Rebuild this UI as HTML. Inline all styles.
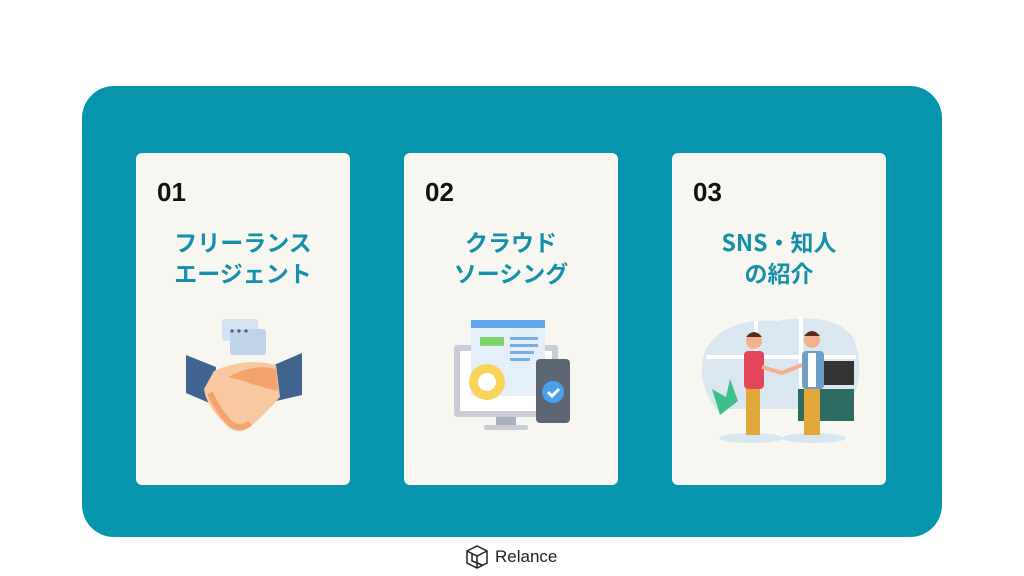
<!DOCTYPE html>
<html><head><meta charset="utf-8"><style>
body{margin:0;width:1024px;height:576px;background:#fff;position:relative;overflow:hidden;font-family:"Liberation Sans","Noto Sans CJK JP",sans-serif}
.panel{position:absolute;left:82px;top:86px;width:860px;height:451px;background:#0795ae;border-radius:32px}
.card{position:absolute;top:153px;width:214px;height:332px;background:#f7f6f1;border-radius:6px}
.num{position:absolute;left:21px;top:24px;font-size:26px;font-weight:bold;color:#111}
.t{position:absolute;left:0;width:100%;top:73px;text-align:center;font-size:23px;line-height:31px;font-weight:bold;color:#1490aa;font-family:"Noto Sans CJK JP",sans-serif}
svg{position:absolute}
.logo{position:absolute;left:464px;top:545px;font-size:17px;color:#222}
</style></head><body>
<div class="panel"></div>
<div class="card" style="left:136px"><div class="num">01</div><div class="t">フリーランス<br>エージェント</div>
<svg style="left:48px;top:166px" width="120" height="120" viewBox="0 0 120 120">
<rect x="38" y="0" width="36" height="22" rx="3" fill="#d4e3f1"/><rect x="46" y="10" width="36" height="26" rx="3" fill="#bfd4ea"/>
<circle cx="48" cy="12" r="1.6" fill="#4a5f7a"/><circle cx="55" cy="12" r="1.6" fill="#4a5f7a"/><circle cx="62" cy="12" r="1.6" fill="#4a5f7a"/>
<polygon points="2,36 32,48 30,86 2,74" fill="#3f6590"/><polygon points="118,34 90,46 92,82 118,76" fill="#3f6590"/>
<path d="M30 52 Q60 38 92 46 L96 78 Q80 96 66 108 Q52 118 40 104 Q22 86 20 70 Z" fill="#f8c9a0"/>
<path d="M44 58 Q70 44 92 50 L94 72 Q76 68 60 62 Z" fill="#f3a46c"/>
<path d="M26 74 Q34 92 46 104 Q56 112 66 104" stroke="#f3a46c" stroke-width="6" fill="none"/>
</svg></div>
<div class="card" style="left:404px"><div class="num">02</div><div class="t">クラウド<br>ソーシング</div>
<svg style="left:50px;top:166px" width="130" height="115" viewBox="0 0 130 115">
<rect x="0" y="26" width="104" height="72" rx="3" fill="#c9ced6"/><rect x="6" y="32" width="92" height="60" fill="#fff"/>
<rect x="42" y="98" width="20" height="8" fill="#aab2bd"/><rect x="30" y="106" width="44" height="5" rx="2" fill="#c9ced6"/>
<rect x="17" y="1" width="74" height="76" fill="#e4effa"/><rect x="17" y="1" width="74" height="8" fill="#5fa6e6"/>
<rect x="26" y="18" width="24" height="9" fill="#7fd36b"/>
<rect x="56" y="18" width="28" height="3" fill="#7aaee0"/><rect x="56" y="25" width="28" height="3" fill="#7aaee0"/><rect x="56" y="32" width="24" height="3" fill="#7aaee0"/><rect x="56" y="39" width="20" height="3" fill="#7aaee0"/>
<circle cx="33" cy="63" r="18" fill="#f8d45a"/><circle cx="33" cy="63" r="9" fill="#fff"/>
<rect x="82" y="40" width="34" height="64" rx="4" fill="#5d6675"/>
<circle cx="99" cy="73" r="11" fill="#4aa1ea"/><path d="M94 73 l4 4 l7 -7" stroke="#fff" stroke-width="3" fill="none"/>
</svg></div>
<div class="card" style="left:672px"><div class="num">03</div><div class="t">SNS・知人<br>の紹介</div>
<svg style="left:24px;top:156px" width="170" height="140" viewBox="0 0 170 140">
<path d="M10 40 Q30 8 80 12 Q140 2 158 30 Q172 70 150 100 L20 100 Q-2 70 10 40Z" fill="#dae7f0"/>
<path d="M60 12 L60 100 M105 8 L105 100 M10 48 L160 48" stroke="#fff" stroke-width="4"/>
<rect x="102" y="80" width="56" height="32" fill="#2d6b63"/><rect x="128" y="52" width="30" height="24" fill="#333"/>
<path d="M24 106 L16 80 L30 88 L34 70 L42 92 Z" fill="#3fc08a"/>
<ellipse cx="55" cy="129" rx="32" ry="5" fill="#d8e6f0"/><ellipse cx="118" cy="129" rx="32" ry="5" fill="#d8e6f0"/>
<circle cx="58" cy="32" r="8" fill="#f3b08e"/><path d="M50 28 Q58 18 66 28" fill="#5a2d1a"/>
<rect x="48" y="42" width="20" height="38" rx="4" fill="#e5475a"/><rect x="50" y="80" width="14" height="46" fill="#e0a93a"/>
<circle cx="116" cy="31" r="8" fill="#f3b08e"/><path d="M108 27 Q116 17 124 27" fill="#5a2d1a"/>
<rect x="106" y="42" width="22" height="38" rx="4" fill="#6d9fc7"/><rect x="112" y="44" width="8" height="34" fill="#fff"/><rect x="108" y="80" width="16" height="46" fill="#e0a93a"/>
<path d="M66 58 L86 64 L106 56" stroke="#f3b08e" stroke-width="4" fill="none"/>
</svg></div>
<svg style="left:464px;top:544px" width="26" height="26" viewBox="0 0 26 26"><path d="M3 7 L13 2 L23 7 L23 19 L13 24 L3 19 Z M3 7 L13 12 L23 7 M13 12 L13 24 M8 10 L8 17 L18 21" stroke="#222" stroke-width="1.5" fill="none"/></svg>
<div class="logo" style="left:495px;top:547px">Relance</div>
</body></html>
